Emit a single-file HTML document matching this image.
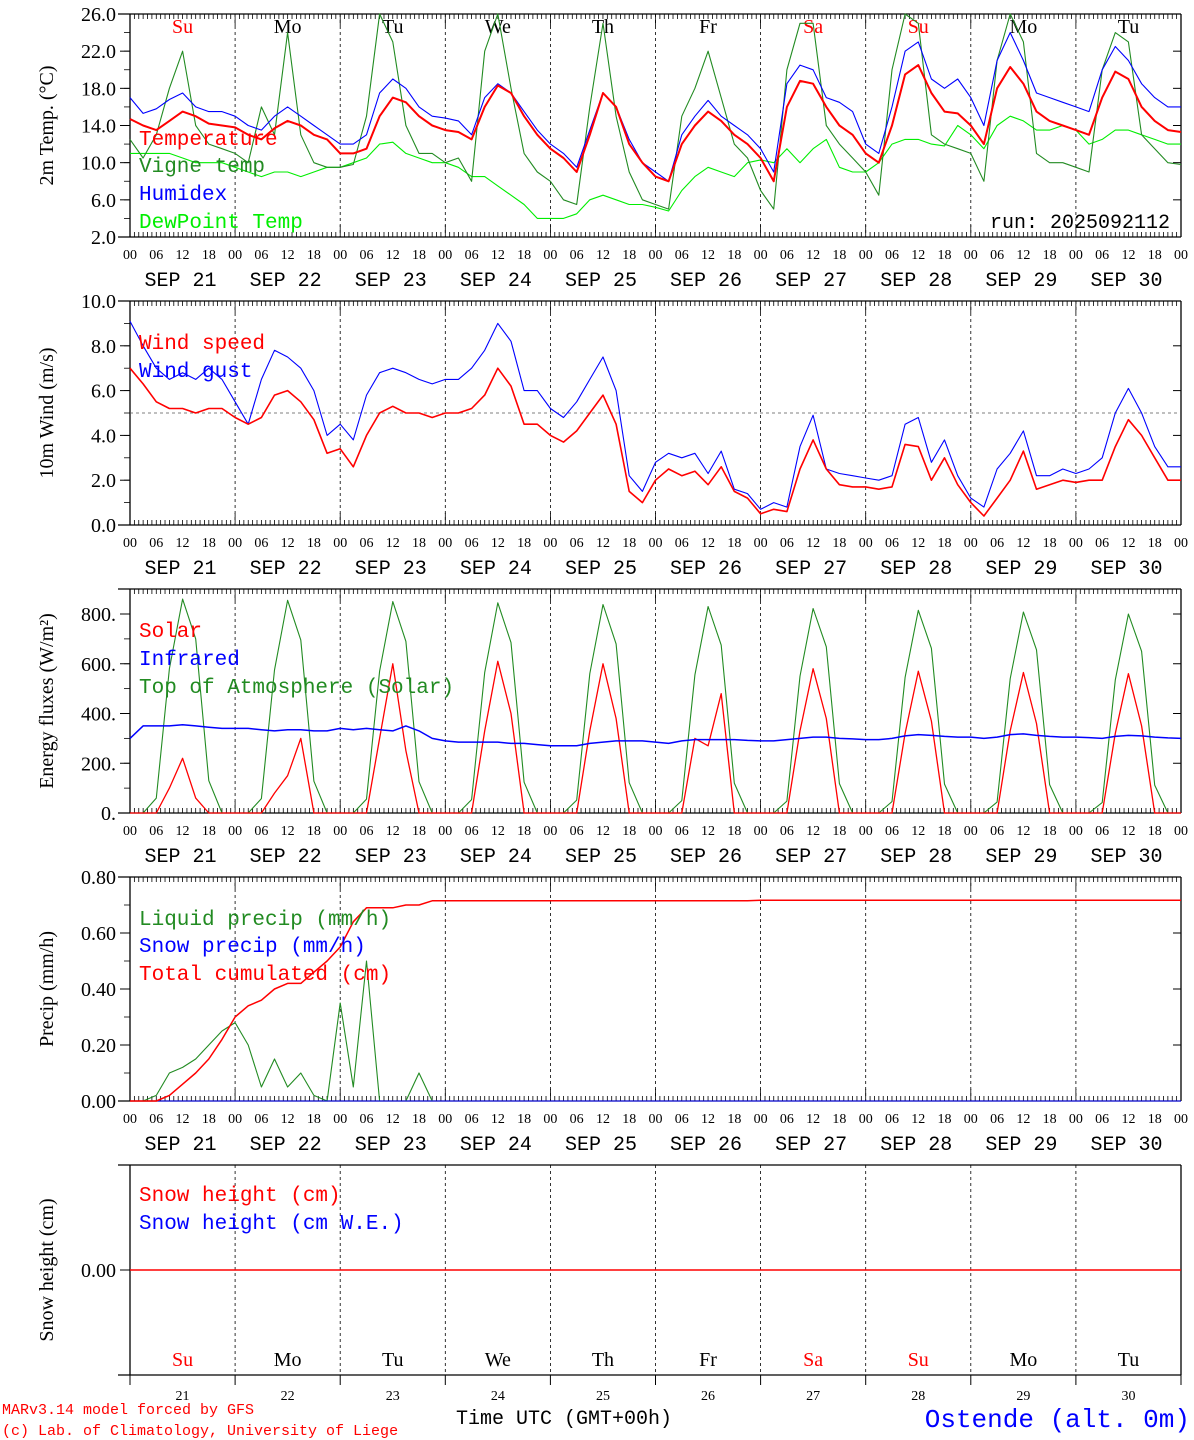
<!DOCTYPE html>
<html><head><meta charset="utf-8">
<style>
html,body{margin:0;padding:0;background:#fff;}
svg{display:block;}
text{font-family:"Liberation Serif","DejaVu Serif",serif;}
.mono{font-family:"Liberation Mono",monospace;}
</style></head>
<body>
<svg id="chart" width="1194" height="1440" viewBox="0 0 1194 1440" xmlns="http://www.w3.org/2000/svg"></svg>
<script>
// ---- data (3-hourly, 81 points from SEP 21 00 UTC to OCT 1 00 UTC) ----
const dayLabels = ["Su","Mo","Tu","We","Th","Fr","Sa","Su","Mo","Tu"];
const dayNums = ["21","22","23","24","25","26","27","28","29","30"];
const sepLabels = ["SEP 21","SEP 22","SEP 23","SEP 24","SEP 25","SEP 26","SEP 27","SEP 28","SEP 29","SEP 30"];
const hourLabels = ["00","06","12","18"];
const tempTicks = [2,6,10,14,18,22,26];
const windTicks = [0,2,4,6,8,10];
const fluxTicks = [0,200,400,600,800];
const precTicks = [0,0.2,0.4,0.6,0.8];
const temperature = [14.7,14,13.5,14.5,15.5,15,14.2,14, 13.8,13,12.5,13.7,14.5,14,13,12.5, 11,11,11.5,15,17,16.5,15,14, 13.5,13.3,12.5,16,18.3,17.5,15,13, 11.5,10.5,9,13,17.5,16,12,10, 8.5,8,12,14,15.5,14.5,13,12, 10.5,8,16,18.8,18.5,16,14,13, 11,10,14,19.5,20.5,17.5,15.5,15.3, 14,12,18,20.3,18.5,15.5,14.5,14, 13.5,13,17,19.8,19,16,14.5,13.5, 13.3];
const humidex = [17,15.3,15.8,16.8,17.5,16,15.5,15.5, 15,14,13.5,15,16,15,14,13, 12,12,13,17.5,19,18,16,15, 14.8,14.5,13,17,18.5,17.5,15.5,13.5, 12,11,9.5,13.5,17.5,16,12.5,10, 9,8,13,15,16.7,15,14,13, 11.5,9,18.5,20.5,20,17,16.5,15.5, 12,11,16,22,23,19,18,19, 17,14,21,24,21,17.5,17,16.5, 16,15.5,20,22.5,21,18.5,17,16, 16];
const vigne = [12.5,10.5,13,18,22,14,12,11.5, 11,10,16,13,24,13,10,9.5, 9.5,9.8,15,26,23,14,11,11, 10,10.5,8,22,26,18,11,9, 8,6,5.5,16,25,15,9,6, 5.5,5,15,18,22,17,12,10.5, 7,5,20,25,25,14,12,10.5, 9,6.5,20,26,25,13,12,11.5, 11,8,21,26,23,11,10,10, 9.5,9,20,24,23,13,11.5,10, 9.8];
const dewpoint = [11,11,11,11,10.5,10,10,10, 9.5,9,8.5,9,9,8.5,9,9.5, 9.5,10,10.5,12,12.2,11,10.5,10, 10,9.5,8.5,8.5,7.5,6.5,5.5,4, 4,4,4.5,6,6.5,6,5.5,5.5, 5.2,4.8,7,8.5,9.5,9,8.5,10, 10.3,10,11.5,10,11.5,12.5,9.5,9, 9,10,12,12.5,12.5,12,11.8,14, 13,11.5,14,15,14.5,13.5,13.5,14, 13.5,12,12.5,13.5,13.5,13,12.5,12, 12];
const windSpeed = [7,6.3,5.5,5.2,5.2,5,5.2,5.2, 4.8,4.5,4.8,5.8,6,5.5,4.7,3.2, 3.4,2.6,4,5,5.3,5,5,4.8, 5,5,5.2,5.8,7,6.2,4.5,4.5, 4,3.7,4.2,5,5.8,4.5,1.5,1, 2,2.5,2.2,2.4,1.8,2.6,1.5,1.2, 0.5,0.7,0.6,2.5,3.8,2.5,1.8,1.7, 1.7,1.6,1.7,3.6,3.5,2,3,1.8, 1,0.4,1.2,2,3.3,1.6,1.8,2, 1.9,2,2,3.5,4.7,4,3,2, 2];
const windGust = [9.1,8,7,6.5,6.8,6.5,7,6.5, 5.5,4.5,6.5,7.8,7.5,7,6,4, 4.5,3.8,5.8,6.8,7,6.8,6.5,6.3, 6.5,6.5,7,7.8,9,8.2,6,6, 5.2,4.8,5.5,6.5,7.5,6,2.2,1.5, 2.8,3.2,3,3.2,2.3,3.3,1.6,1.4, 0.7,1,0.8,3.5,4.9,2.5,2.3,2.2, 2.1,2,2.2,4.5,4.8,2.8,3.8,2.2, 1.2,0.8,2.5,3.2,4.2,2.2,2.2,2.5, 2.3,2.5,3,5,6.1,5,3.5,2.6, 2.6];
const solar = [0,0,0,100,220,60,0,0, 0,0,0,80,150,300,0,0, 0,0,0,300,600,250,0,0, 0,0,0,330,610,400,0,0, 0,0,0,330,600,380,0,0, 0,0,0,300,270,480,0,0, 0,0,0,330,580,380,0,0, 0,0,0,320,570,370,0,0, 0,0,0,330,565,360,0,0, 0,0,0,320,560,350,0,0, 0];
const infrared = [300,350,350,350,355,350,345,340, 340,340,335,330,335,335,330,330, 340,335,340,335,330,350,330,300, 290,285,285,285,285,280,280,275, 270,270,270,280,285,290,290,290, 285,280,290,295,295,295,295,292, 290,290,295,300,305,305,300,298, 295,295,300,310,315,312,308,305, 305,300,305,315,318,312,308,305, 305,303,300,308,312,310,305,302, 300];
const toa = [0,0,60,580,860,700,130,0, 0,0,58,575,855,695,128,0, 0,0,56,570,850,690,126,0, 0,0,54,565,845,685,124,0, 0,0,52,560,838,680,122,0, 0,0,50,555,830,675,120,0, 0,0,48,550,822,668,118,0, 0,0,46,545,815,662,116,0, 0,0,44,540,808,656,114,0, 0,0,42,535,800,650,112,0, 0];
const liquidPrecip = [0,0,0.02,0.1,0.12,0.15,0.2,0.25, 0.28,0.2,0.05,0.15,0.05,0.1,0.02,0, 0.35,0.05,0.5,0,0,0,0.1,0, 0,0,0,0,0,0,0,0, 0,0,0,0,0,0,0,0, 0,0,0,0,0,0,0,0, 0,0,0,0,0,0,0,0, 0,0,0,0,0,0,0,0, 0,0,0,0,0,0,0,0, 0,0,0,0,0,0,0,0, 0];
const totalCum = [0,0,0,0.02,0.06,0.1,0.15,0.22, 0.3,0.34,0.36,0.4,0.42,0.42,0.46,0.5, 0.55,0.64,0.69,0.69,0.69,0.7,0.7,0.715, 0.715,0.715,0.715,0.715,0.715,0.715,0.715,0.715, 0.715,0.715,0.715,0.715,0.715,0.715,0.715,0.715, 0.715,0.715,0.715,0.715,0.715,0.715,0.715,0.715, 0.717,0.717,0.717,0.717,0.717,0.717,0.717,0.717, 0.717,0.717,0.717,0.717,0.717,0.717,0.717,0.717, 0.717,0.717,0.717,0.717,0.717,0.717,0.717,0.717, 0.717,0.717,0.717,0.717,0.717,0.717,0.717,0.717, 0.717];
const snowPrecip = new Array(81).fill(0);
const snowHeight = new Array(81).fill(0);

const svg = document.getElementById('chart');
const NS = "http://www.w3.org/2000/svg";
const X0 = 130, X1 = 1181;
const xs = h => X0 + h / 240 * (X1 - X0);
function el(tag, attrs, parent) {
  const e = document.createElementNS(NS, tag);
  for (const k in attrs) e.setAttribute(k, attrs[k]);
  (parent || svg).appendChild(e);
  return e;
}
function txt(s, x, y, size, fill, anchor, cls, parent) {
  const t = el('text', {x: x, y: y, 'font-size': size, fill: fill, 'text-anchor': anchor || 'start'}, parent);
  if (cls) t.setAttribute('class', cls);
  t.textContent = s;
  return t;
}
function linY(v0, y0, v1, y1) { return v => y0 + (v - v0) / (v1 - v0) * (y1 - y0); }

function panel(name, top, bottom, ys, ticks, fmt, ytitle, minorStep, hourAxis) {
  const g = el('g', {});
  
  
  el('line', {x1: X0 - 12, y1: top, x2: X1, y2: top, stroke: '#000', 'stroke-width': 1.3}, g);
  el('line', {x1: X0 - 12, y1: bottom, x2: X1, y2: bottom, stroke: '#000', 'stroke-width': 1.3}, g);
  el('line', {x1: X0, y1: top, x2: X0, y2: bottom, stroke: '#000', 'stroke-width': 1.3}, g);
  el('line', {x1: X1, y1: top, x2: X1, y2: bottom, stroke: '#000', 'stroke-width': 1.3}, g);
  if (hourAxis) {
    for (let h = 0; h <= 240; h++) {
      const x = xs(h);
      const L = (h % 24 === 0) ? 12 : 5;
      el('line', {x1: x, y1: top, x2: x, y2: top + L, stroke: '#000', 'stroke-width': 0.8}, g);
      el('line', {x1: x, y1: bottom, x2: x, y2: bottom - L, stroke: '#000', 'stroke-width': 0.8}, g);
    }
  }
  for (let d = 1; d < 10; d++) {
    const x = xs(d * 24);
    el('line', {x1: x, y1: top, x2: x, y2: bottom, stroke: '#000', 'stroke-width': 0.8, 'stroke-dasharray': '3,3'}, g);
  }
  ticks.forEach(v => {
    const y = ys(v);
    el('line', {x1: X0 - 10, y1: y, x2: X0, y2: y, stroke: '#000', 'stroke-width': 1}, g);
    el('line', {x1: X1, y1: y, x2: X1 - 8, y2: y, stroke: '#000', 'stroke-width': 1}, g);
    txt(fmt(v), X0 - 14, y + 7, 20, '#000', 'end', null, g);
  });
  if (minorStep) {
    for (let v = ticks[0]; v <= ticks[ticks.length - 1] + 1e-9; v += minorStep) {
      const y = ys(v);
      el('line', {x1: X0 - 6, y1: y, x2: X0, y2: y, stroke: '#000', 'stroke-width': 0.8}, g);
    }
  }
  const cy = (top + bottom) / 2;
  const t = txt(ytitle, 53, cy, 20, '#000', 'middle', null, g);
  t.setAttribute('transform', 'rotate(-90 53 ' + cy + ')');
  if (hourAxis) {
    for (let d = 0; d < 10; d++) {
      for (let k = 0; k < 4; k++) txt(hourLabels[k], xs(d * 24 + k * 6), bottom + 22, 14, '#000', 'middle', null, g);
      txt(sepLabels[d], xs(d * 24 + 12) - 2, bottom + 49, 20, '#000', 'middle', 'mono', g);
    }
    txt("00", xs(240), bottom + 22, 14, '#000', 'middle', null, g);
  }
  return g;
}
function series(name, arr, ys, color, w) {
  const pts = arr.map((v, i) => xs(i * 3).toFixed(1) + ',' + ys(v).toFixed(1)).join(' ');
  const p = el('polyline', {points: pts, fill: 'none', stroke: color, 'stroke-width': w || 1.2, 'stroke-linejoin': 'round'});
  
  
  return p;
}
function legend(name, s, y, color) {
  const t = txt(s, 139, y, 21, color, 'start', 'mono');
  
  
}

const yT = linY(26, 14, 2, 237);
panel('temperature-panel', 14, 237, yT, tempTicks, v => v.toFixed(1), '2m Temp. (\u00B0C)', 2, true);
for (let d = 0; d < 10; d++) {
  const c = (dayLabels[d] === 'Su' || dayLabels[d] === 'Sa') ? '#f00' : '#000';
  const t = txt(dayLabels[d], xs(d * 24 + 12), 33, 20, c, 'middle');
  
  
}
series('dewpoint-line', dewpoint, yT, '#00ee00', 1.1);
series('vigne-temp-line', vigne, yT, '#228b22', 1.1);
series('humidex-line', humidex, yT, '#0000ff', 1.1);
series('temperature-line', temperature, yT, '#ff0000', 2);
legend('legend-temperature', 'Temperature', 145, '#f00');
legend('legend-vigne', 'Vigne temp', 172, '#228b22');
legend('legend-humidex', 'Humidex', 200, '#00f');
legend('legend-dewpoint', 'DewPoint Temp', 228, '#00ee00');
const run = txt('run: 2025092112', 1170, 228, 20, '#000', 'end', 'mono');



const yW = linY(10, 301, 0, 525);
panel('wind-panel', 301, 525, yW, windTicks, v => v.toFixed(1), '10m Wind (m/s)', 1, true);
el('line', {x1: X0, y1: yW(5), x2: X1, y2: yW(5), stroke: '#555', 'stroke-width': 0.8, 'stroke-dasharray': '3,3',  });
series('wind-gust-line', windGust, yW, '#0000ff', 1.1);
series('wind-speed-line', windSpeed, yW, '#ff0000', 1.6);
legend('legend-wind-speed', 'Wind speed', 349, '#f00');
legend('legend-wind-gust', 'Wind gust', 377, '#00f');

const yE = linY(800, 614, 0, 813);
panel('energy-panel', 589, 813, yE, fluxTicks, v => v.toFixed(0) + '.', 'Energy fluxes (W/m\u00B2)', 100, true);
series('toa-solar-line', toa, yE, '#228b22', 1.1);
series('solar-line', solar, yE, '#ff0000', 1.3);
series('infrared-line', infrared, yE, '#0000ff', 1.5);
legend('legend-solar', 'Solar', 637, '#f00');
legend('legend-infrared', 'Infrared', 665, '#00f');
legend('legend-toa', 'Top of Atmosphere (Solar)', 693, '#228b22');

const yP = linY(0.8, 877, 0, 1101);
panel('precip-panel', 877, 1101, yP, precTicks, v => v.toFixed(2), 'Precip (mm/h)', 0.1, true);
series('liquid-precip-line', liquidPrecip, yP, '#228b22', 1.1);
series('snow-precip-line', snowPrecip, yP, '#0000ff', 1.1);
series('total-cumulated-line', totalCum, yP, '#ff0000', 1.5);
legend('legend-liquid', 'Liquid precip (mm/h)', 925, '#228b22');
legend('legend-snow', 'Snow precip (mm/h)', 952, '#00f');
legend('legend-total', 'Total cumulated (cm)', 980, '#f00');

const yS = v => 1270 - v * 100;
panel('snow-panel', 1165, 1375, yS, [0], v => v.toFixed(2), 'Snow height (cm)', 0, false);
series('snow-height-line', snowHeight, yS, '#ff0000', 1.5);
legend('legend-snow-height', 'Snow height (cm)', 1201, '#f00');
legend('legend-snow-we', 'Snow height (cm W.E.)', 1229, '#00f');
for (let d = 0; d < 10; d++) {
  const c = (dayLabels[d] === 'Su' || dayLabels[d] === 'Sa') ? '#f00' : '#000';
  const t = txt(dayLabels[d], xs(d * 24 + 12), 1366, 20, c, 'middle');
  
  
  const n = txt(dayNums[d], xs(d * 24 + 12), 1400, 14, '#000', 'middle');
  
  
}
for (let d = 0; d <= 10; d++) el('line', {x1: xs(d * 24), y1: 1375, x2: xs(d * 24), y2: 1385, stroke: '#000', 'stroke-width': 1});

const f1 = txt('MARv3.14 model forced by GFS', 2, 1414, 15, '#f00', 'start', 'mono');


const f2 = txt('(c) Lab. of Climatology, University of Liege', 2, 1435, 15, '#f00', 'start', 'mono');


const xt = txt('Time UTC (GMT+00h)', 456, 1424, 20, '#000', 'start', 'mono');


const st = txt('Ostende (alt. 0m)', 1190, 1427, 26, '#0000ff', 'end', 'mono');


</script>
</body></html>
